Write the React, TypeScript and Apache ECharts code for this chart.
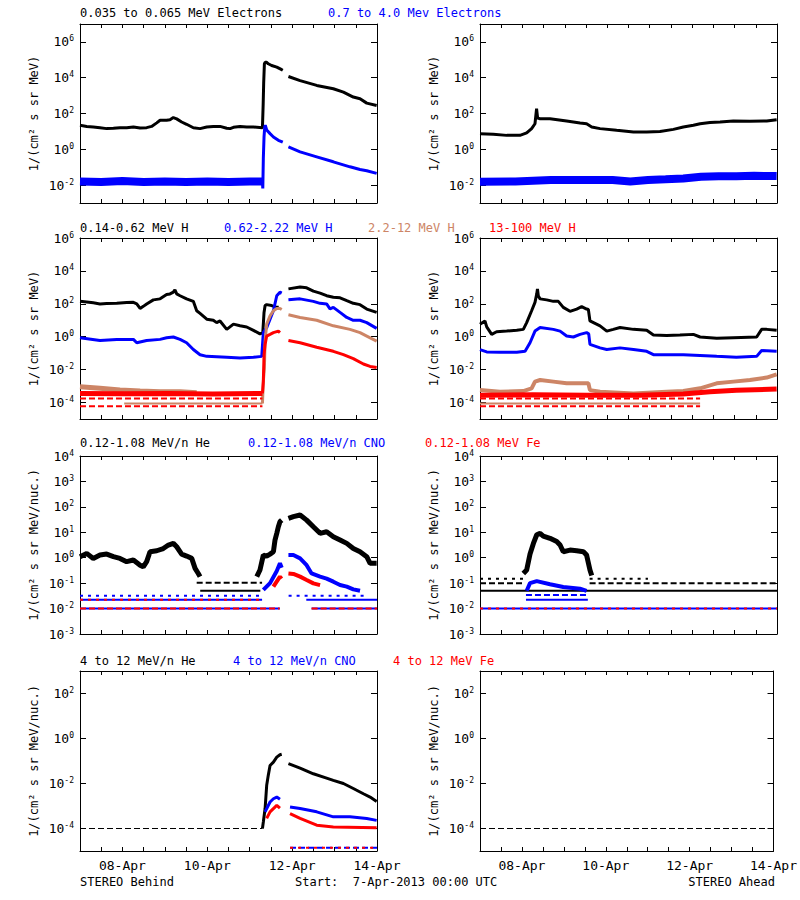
import React, { useEffect, useRef } from 'react';
import * as echarts from 'echarts';

type P = [number, number | string];
const G = '-'; // gap in the data

// x values are hours since 7-Apr-2013 00:00 UTC
const xTickLabels: Record<number, string> = { 24: '08-Apr', 72: '10-Apr', 120: '12-Apr', 168: '14-Apr' };

// ---------- Row 1: electrons ----------
const elecLowBehind: P[] = [[0,22],[3.8,19],[7.5,17.7],[11.3,16],[15.1,14.3],[18.9,15],[22.6,16.2],[26.4,16],[30.2,17.7],[34,15.5],[37.7,16.2],[40.5,19],[43.4,30],[45.3,42],[49,42],[50.9,45],[52.8,59],[54.7,50],[57.5,33.5],[60.3,25],[62.2,20],[64.1,16],[67.9,14.3],[71.7,17.7],[75.4,19],[79.2,19],[83,15],[84.9,14.3],[86.8,17],[90.5,19],[94.3,17.7],[98.1,17.7],[103.2,16.2],[103.6,300],[103.9,5000],[104.3,59000],[104.7,72000],[105.6,72000],[106.5,60000],[108.4,48000],[111.3,39000],[114.1,28000],[114.7,26000],[116,G],[117.9,11700],[124.5,6900],[133.9,3700],[143.3,2400],[149,1560],[154.6,830],[158.4,670],[162.2,380],[167.8,280]];
const elecHighBehindBg: P[] = [[0,0.016],[12,0.015],[24,0.017],[36,0.015],[48,0.016],[60,0.015],[72,0.016],[84,0.015],[96,0.016],[103.2,0.016]];
const elecHighBehind: P[] = [[103.2,0.016],[103.4,0.0065],[103.7,0.3],[104.1,5],[104.5,17.7],[104.8,22],[105.6,12],[107.5,7.5],[109.4,4.9],[112.2,3.2],[114.7,2.5],[116,G],[117.9,1.35],[124.5,0.72],[133.9,0.38],[143.3,0.2],[152.7,0.105],[158.4,0.074],[162.2,0.063],[167.8,0.045]];
const elecLowAhead: P[] = [[0,7.5],[7.5,6.9],[15.1,6],[22.6,6],[26.4,8.2],[29.2,14.3],[31.1,26.7],[32,186],[32.6,55],[34,51],[39.6,51],[49,38],[56.6,29.5],[60.3,26.7],[63.2,17.7],[67.9,14.3],[77.3,11.5],[86.8,9.3],[94.3,9.3],[101.8,10],[109.4,13],[115,17.7],[120.7,22],[124.5,26.7],[130.1,31],[135.8,33.5],[143.3,38],[152.7,36.5],[162.2,38],[167.8,45]];
const elecHighAhead: P[] = [[0,0.0154],[20,0.016],[40,0.019],[60,0.019],[75,0.019],[85,0.016],[95,0.019],[105,0.021],[115,0.0235],[125,0.029],[135,0.0317],[145,0.0317],[155,0.033],[167.8,0.032]];

// ---------- Row 2: protons ----------
const protLowBehind: P[] = [[0,141],[3.8,130],[7.5,115],[11.3,98],[15.1,105],[20.8,107],[26.4,120],[30.2,123],[32.1,100],[34,52],[35.8,70],[37.7,98],[41.5,174],[45.3,200],[49,366],[50.9,400],[52.8,510],[53.7,710],[54.7,400],[56.6,310],[60.3,200],[64.1,141],[66,38],[67.9,26],[71.7,11.7],[75.4,10],[77.3,7.2],[79.2,9.1],[83,2.8],[86.8,5.8],[90.5,4.6],[94.3,3.9],[98.1,2.45],[101.8,1.5],[103.4,1.77],[104.1,30],[104.7,78],[105.6,89],[108.4,78],[111.3,61],[112.4,61],[115,G],[117.9,810],[124.5,1040],[128.2,940],[132,590],[135.8,450],[139.5,310],[143.3,250],[147.1,230],[150.9,155],[154.6,107],[158.4,89],[162.2,48],[167.8,30]];
const protMidBehind: P[] = [[0,0.87],[11.3,0.59],[20.8,0.69],[30.2,0.69],[32.1,0.43],[37.7,0.59],[45.3,0.69],[49,0.87],[52.8,0.96],[56.6,0.69],[60.3,0.43],[64.1,0.166],[67.9,0.081],[71.7,0.064],[83,0.056],[90.5,0.051],[98.1,0.056],[102.8,0.064],[103.7,1.77],[105.6,3.6],[107.5,11.7],[109.4,38],[111.3,310],[112.2,400],[113.1,510],[114.1,450],[116,G],[117.9,174],[124.5,200],[132,141],[135.8,107],[139.5,98],[141.4,50],[143.3,61],[147.1,30],[150.9,14.8],[154.6,10],[158.4,10],[162.2,7.2],[167.8,3.2]];
const protHighBehindBg: P[] = [[0,9.2e-4],[11.3,7.3e-4],[22.6,5.7e-4],[34,5e-4],[45.3,4.5e-4],[56.6,4.5e-4],[66,4e-4]];
const protHighBehind: P[] = [[103.2,8.7e-5],[103.7,1.9e-3],[104.3,0.0123],[104.7,0.54],[105.6,5.8],[107.5,18.6],[109.4,38],[111.3,52],[113.1,52],[114.1,45],[116,G],[117.9,21.5],[124.5,14.8],[133.9,10],[143.3,4.6],[152.7,2.8],[158.4,1.77],[162.2,1.1],[167.8,0.54]];
const protHighBehindFloor: P[] = [[25,8.7e-5],[103.2,8.7e-5]];
const protTopBehindBg: P[] = [[0,3.6e-4],[25,3.4e-4],[50,3.6e-4],[75,3.3e-4],[103.2,3.6e-4]];
const protTopBehind: P[] = [[103.2,3.6e-4],[103.7,1.87e-3],[104.1,0.081],[104.7,0.34],[105.6,1.1],[107.5,1.39],[109.4,1.77],[112.2,2.2],[113.1,1.77],[116,G],[117.9,0.59],[124.5,0.43],[133.9,0.23],[143.3,0.13],[149,0.081],[154.6,0.047],[160.3,0.022],[164.1,0.0156],[167.8,0.0134]];
const protTopBehindFloorA: P[] = [[0,1.77e-4],[103.2,1.77e-4]];
const protTopBehindFloorB: P[] = [[0,5.9e-5],[103.2,5.9e-5]];
const protLowAhead: P[] = [[0,5.8],[2.8,9.1],[3.8,4],[6.6,1.39],[9.4,2.0],[15.1,2.2],[20.8,2.45],[24.5,2.8],[26.4,7.2],[29.2,38],[31.1,123],[32.1,400],[32.5,810],[33,300],[34,200],[37.7,174],[41.5,141],[44.3,141],[47.1,61],[50.9,35],[54.7,48],[57.5,67],[60.3,48],[61.3,45],[62.2,9.1],[67.9,4.6],[71.7,2.2],[75.4,2.8],[79.2,3.6],[86.8,2.8],[94.3,2.45],[98.1,1.26],[105.6,1.2],[113.1,1.26],[120.7,1.39],[124.5,0.96],[133.9,0.8],[143.3,0.87],[156.5,0.96],[159.3,2.8],[162.2,2.8],[167.8,2.45]];
const protMidAhead: P[] = [[0,0.166],[3.8,0.12],[11.3,0.115],[20.8,0.115],[25.5,0.13],[28.3,0.43],[31.1,2.2],[34,3.6],[41.5,2.8],[45.3,2.2],[49,1.1],[52.8,0.96],[56.6,1.39],[60.3,1.77],[61.5,1.5],[62.2,0.34],[67.9,0.21],[71.7,0.166],[79.2,0.21],[86.8,0.166],[94.3,0.13],[98.1,0.081],[115,0.081],[133.9,0.064],[145,0.056],[156.5,0.064],[159.3,0.145],[167.8,0.13]];
const protHighAhead: P[] = [[0,5.7e-4],[11.3,4.5e-4],[24.5,5e-4],[29.2,7.3e-4],[31.1,1.87e-3],[34,2.35e-3],[41.5,1.87e-3],[49,1.48e-3],[56.6,1.48e-3],[61.3,1.48e-3],[62.2,5.7e-4],[67.9,4.5e-4],[86.8,3.6e-4],[105.6,4.5e-4],[115,5e-4],[124.5,7.3e-4],[133.9,1.48e-3],[143.3,1.87e-3],[152.7,2.35e-3],[162.2,3.3e-3],[167.8,5.2e-3]];
const protHighAheadFloor: P[] = [[0,8.7e-5],[124.5,8.7e-5]];
const protTopAhead: P[] = [[0,2.8e-4],[30,3e-4],[60,2.8e-4],[90,2.8e-4],[115,3.3e-4],[130,4.5e-4],[145,5.5e-4],[167.8,6.6e-4]];
const protTopAheadFloorA: P[] = [[0,1.77e-4],[124.5,1.77e-4]];
const protTopAheadFloorB: P[] = [[0,5.9e-5],[124.5,5.9e-5]];

// ---------- Row 3: 0.12-1.08 MeV/n ions ----------
const heLowBehind: P[] = [[0,1.1],[3.8,1.48],[7.5,0.94],[11.3,1.27],[15.1,1.39],[18.9,1.1],[22.6,0.94],[26.4,0.7],[30.2,0.81],[34,0.51],[35.8,0.44],[37.7,0.7],[39.6,1.72],[43.4,1.88],[47.1,2.3],[50,3.15],[52.8,3.66],[54.7,2.7],[57.5,1.39],[60.3,1.16],[63.2,0.94],[65.1,0.38],[66.9,0.24],[67.9,0.18],[69,G],[100,0.18],[101.8,0.33],[103.7,1.27],[105.6,1.16],[107.5,1.39],[109.4,1.72],[110.3,4.9],[111.3,9.1],[112.2,16.5],[113.1,26],[114.1,30],[116,G],[117.9,35],[120.7,41],[124.5,48],[128.2,30],[132,16.5],[135.8,9.1],[139.5,10.5],[143.3,6.7],[147.1,5],[150.9,3.66],[154.6,2.3],[158.4,1.72],[162.2,1.1],[164.1,0.6],[167.8,0.6]];
const heLowBehindFloorA: P[] = [[66,0.104],[103,0.104]];
const heLowBehindFloorB: P[] = [[68,0.05],[102,0.05]];
const cnoLowBehind: P[] = [[103.7,0.054],[107.5,0.1],[111.3,0.3],[113.1,0.6],[114.1,0.4],[116,G],[117.9,1.27],[120.7,1.27],[124.5,0.94],[128.2,0.51],[131,0.24],[135.8,0.18],[139.5,0.15],[143.3,0.114],[147.1,0.084],[150.9,0.073],[154.6,0.057],[158.4,0.05]];
const cnoLowBehindFloorA: P[] = [[0,0.032],[103,0.032],[110,G],[118,0.032],[162,0.032]];
const cnoLowBehindFloorB: P[] = [[0,0.022],[103,0.022],[110,G],[128,0.022],[168,0.022]];
const cnoLowBehindFloorC: P[] = [[0,0.01],[113,0.01],[120,G],[131,0.01],[168,0.01]];
const feLowBehind: P[] = [[109.4,0.073],[113.1,0.18],[114,0.15],[116,G],[117.9,0.24],[120.7,0.23],[124.5,0.18],[128.2,0.133],[132,0.098],[135.8,0.084]];
const feLowBehindFloorA: P[] = [[0,0.022],[103,0.022]];
const feLowBehindFloorB: P[] = [[0,0.01],[113,0.01],[120,G],[131,0.01],[168,0.01]];
const heLowAhead: P[] = [[24.5,0.24],[26.4,0.33],[28.3,1.39],[30.2,3.66],[32.1,8],[34,9.1],[35.8,7.1],[39.6,5.8],[43.4,4.3],[45.3,3.15],[47.1,1.72],[50.9,2.0],[54.7,1.88],[58.5,1.72],[60.3,1.27],[62.2,0.33],[63.2,0.2]];
const heLowAheadFloorA: P[] = [[0,0.15],[25,0.15],[40,G],[62,0.15],[95,0.15]];
const heLowAheadFloorB: P[] = [[0,0.1],[25,0.1],[40,G],[62,0.1],[168,0.1]];
const heLowAheadFloorC: P[] = [[0,0.05],[168,0.05]];
const cnoLowAhead: P[] = [[26.4,0.05],[28.3,0.1],[32.1,0.12],[39.6,0.09],[47.1,0.07],[56.6,0.06],[60.3,0.05]];
const cnoLowAheadFloorA: P[] = [[26,0.034],[61,0.034]];
const cnoLowAheadFloorB: P[] = [[26,0.022],[61,0.022]];
const cnoLowAheadFloorC: P[] = [[0,0.01],[168,0.01]];
const feLowAheadFloor: P[] = [[0,0.01],[168,0.01]];

// ---------- Row 4: 4-12 MeV/n ions ----------
const heHighBehindFloor: P[] = [[0,1e-4],[103.2,1e-4]];
const heHighBehind: P[] = [[103.2,1e-4],[103.7,1.95e-4],[104.7,7.7e-4],[105.6,8.3e-3],[106.5,0.023],[107.5,0.063],[109.4,0.089],[111.3,0.148],[113.1,0.19],[114.1,0.2],[116,G],[117.9,0.076],[124.5,0.048],[132,0.027],[139.5,0.0174],[143.3,0.0138],[149,0.01],[154.6,0.006],[160.3,0.0035],[164.1,0.0025],[167.8,0.0016]];
const cnoHighBehind: P[] = [[104.7,5.5e-4],[107.5,1.5e-3],[109.4,2.1e-3],[111.3,2.5e-3],[113.1,2e-3],[116,G],[118.8,9.1e-4],[124.5,7.7e-4],[133.9,5.5e-4],[143.3,3.3e-4],[152.7,3.3e-4],[162.2,2.8e-4],[167.8,2.3e-4]];
const cnoHighBehindFloor: P[] = [[118.8,1.4e-5],[168,1.4e-5]];
const feHighBehind: P[] = [[105.6,2.8e-4],[107.5,5.5e-4],[111.3,1.07e-3],[113.1,8e-4],[116,G],[118.8,4.6e-4],[124.5,2.8e-4],[133.9,1.4e-4],[143.3,1.18e-4],[167.8,1.07e-4]];
const feHighBehindFloor: P[] = [[118.8,1.4e-5],[168,1.4e-5]];
const heHighAheadFloor: P[] = [[0,1e-4],[168,1e-4]];

// ---------- axes ----------
const yRanges: [number, number][] = [[1e-3, 1e7], [1e-5, 1e6], [1e-3, 1e4], [1e-5, 1e3]];
const yTickValues: number[][] = [
  [1e-2, 1, 1e2, 1e4, 1e6],
  [1e-4, 1e-2, 1, 1e2, 1e4, 1e6],
  [1e-3, 1e-2, 1e-1, 1, 10, 100, 1e3, 1e4],
  [1e-4, 1e-2, 1, 1e2],
];
const yNames = ['1/(cm² s sr MeV)', '1/(cm² s sr MeV)', '1/(cm² s sr MeV/nuc.)', '1/(cm² s sr MeV/nuc.)'];

const K = '#000000', B = '#0000ff', N = '#cd8566', R = '#ff0000';
const FONT = '"DejaVu Sans Mono", monospace';

type S = { data: P[]; color: string; width: number; dash?: number[] };
const DASH = [6, 3];
const SPARSE = [3, 5];

const panels: S[][] = [
  [
    { data: elecLowBehind, color: K, width: 3 },
    { data: elecHighBehindBg, color: B, width: 8 },
    { data: elecHighBehind, color: B, width: 3 },
  ],
  [
    { data: elecLowAhead, color: K, width: 3 },
    { data: elecHighAhead, color: B, width: 8 },
  ],
  [
    { data: protLowBehind, color: K, width: 3 },
    { data: protMidBehind, color: B, width: 3 },
    { data: protHighBehindBg, color: N, width: 5 },
    { data: protHighBehindFloor, color: N, width: 2 },
    { data: protHighBehind, color: N, width: 3 },
    { data: protTopBehindBg, color: R, width: 5 },
    { data: protTopBehindFloorA, color: R, width: 2, dash: DASH },
    { data: protTopBehindFloorB, color: R, width: 2, dash: DASH },
    { data: protTopBehind, color: R, width: 3 },
  ],
  [
    { data: protLowAhead, color: K, width: 3 },
    { data: protMidAhead, color: B, width: 3 },
    { data: protHighAhead, color: N, width: 4 },
    { data: protHighAheadFloor, color: N, width: 2 },
    { data: protTopAhead, color: R, width: 5 },
    { data: protTopAheadFloorA, color: R, width: 2, dash: DASH },
    { data: protTopAheadFloorB, color: R, width: 2, dash: DASH },
  ],
  [
    { data: heLowBehind, color: K, width: 5 },
    { data: heLowBehindFloorA, color: K, width: 2, dash: DASH },
    { data: heLowBehindFloorB, color: K, width: 2 },
    { data: cnoLowBehind, color: B, width: 4 },
    { data: cnoLowBehindFloorA, color: B, width: 2, dash: SPARSE },
    { data: cnoLowBehindFloorB, color: B, width: 2 },
    { data: cnoLowBehindFloorC, color: B, width: 2 },
    { data: feLowBehind, color: R, width: 4 },
    { data: feLowBehindFloorA, color: R, width: 2, dash: SPARSE },
    { data: feLowBehindFloorB, color: R, width: 2, dash: DASH },
  ],
  [
    { data: heLowAhead, color: K, width: 5 },
    { data: heLowAheadFloorA, color: K, width: 2, dash: SPARSE },
    { data: heLowAheadFloorB, color: K, width: 2, dash: DASH },
    { data: heLowAheadFloorC, color: K, width: 2 },
    { data: cnoLowAhead, color: B, width: 4 },
    { data: cnoLowAheadFloorA, color: B, width: 2, dash: DASH },
    { data: cnoLowAheadFloorB, color: B, width: 2 },
    { data: cnoLowAheadFloorC, color: B, width: 2 },
    { data: feLowAheadFloor, color: R, width: 2, dash: SPARSE },
  ],
  [
    { data: heHighBehindFloor, color: K, width: 1, dash: DASH },
    { data: heHighBehind, color: K, width: 3 },
    { data: cnoHighBehind, color: B, width: 3 },
    { data: cnoHighBehindFloor, color: B, width: 2, dash: DASH },
    { data: feHighBehind, color: R, width: 3 },
    { data: feHighBehindFloor, color: R, width: 2, dash: SPARSE },
  ],
  [
    { data: heHighAheadFloor, color: K, width: 1, dash: DASH },
  ],
];

const titles: { t: string; x: number; y: number; c: string; align?: string }[] = [
  { t: '0.035 to 0.065 MeV Electrons', x: 80, y: 13, c: K },
  { t: '0.7 to 4.0 Mev Electrons', x: 328, y: 13, c: B },
  { t: '0.14-0.62 MeV H', x: 80, y: 228, c: K },
  { t: '0.62-2.22 MeV H', x: 224, y: 228, c: B },
  { t: '2.2-12 MeV H', x: 368, y: 228, c: N },
  { t: '13-100 MeV H', x: 489, y: 228, c: R },
  { t: '0.12-1.08 MeV/n He', x: 80, y: 443, c: K },
  { t: '0.12-1.08 MeV/n CNO', x: 248, y: 443, c: B },
  { t: '0.12-1.08 MeV Fe', x: 425, y: 443, c: R },
  { t: '4 to 12 MeV/n He', x: 80, y: 661, c: K },
  { t: '4 to 12 MeV/n CNO', x: 233, y: 661, c: B },
  { t: '4 to 12 MeV Fe', x: 393, y: 661, c: R },
  { t: 'STEREO Behind', x: 80, y: 882, c: K },
  { t: 'Start:  7-Apr-2013 00:00 UTC', x: 295, y: 882, c: K },
  { t: 'STEREO Ahead', x: 775, y: 882, c: K, align: 'right' },
];

const LEFTS = [80, 480];
const WIDTH = 297;
const ROWS = [
  { top: 24, height: 179 },
  { top: 238, height: 181 },
  { top: 456, height: 178 },
  { top: 671, height: 180 },
];

function buildOption() {
  const grid: any[] = [];
  const xAxis: any[] = [];
  const yAxis: any[] = [];
  const series: any[] = [];
  const axisLine = { show: true, onZero: false, lineStyle: { color: '#000', width: 1 } };
  panels.forEach((ps, i) => {
    const r = Math.floor(i / 2);
    const c = i % 2;
    grid.push({ left: LEFTS[c], top: ROWS[r].top, width: WIDTH, height: ROWS[r].height, containLabel: false });
    const xBase = {
      type: 'value', gridIndex: i, min: 0, max: 168, interval: 12,
      axisLine, splitLine: { show: false },
      axisTick: { inside: true, length: 4, lineStyle: { color: '#000' } },
    };
    xAxis.push({
      ...xBase, position: 'bottom',
      axisLabel: {
        show: r === 3, margin: 8, color: '#000', fontFamily: FONT, fontSize: 13,
        formatter: (v: number) => xTickLabels[v] ?? '',
      },
    });
    xAxis.push({ ...xBase, position: 'top', axisLabel: { show: false } });
    const vals = yTickValues[r];
    const yBase = {
      type: 'log', logBase: 10, gridIndex: i, min: yRanges[r][0], max: yRanges[r][1],
      axisLine, splitLine: { show: false }, minorTick: { show: false },
      axisTick: { inside: true, length: 6, customValues: vals, lineStyle: { color: '#000' } },
    };
    yAxis.push({
      ...yBase, position: 'left',
      name: yNames[r], nameLocation: 'middle', nameGap: 40,
      nameTextStyle: { color: '#000', fontFamily: FONT, fontSize: 12 },
      axisLabel: {
        customValues: vals, margin: 6, color: '#000',
        formatter: (v: number) => `{b|10}{s|${Math.round(Math.log10(v))}}`,
        rich: {
          b: { fontFamily: FONT, fontSize: 13, color: '#000', lineHeight: 12 },
          s: { fontFamily: FONT, fontSize: 8, color: '#000', lineHeight: 8, padding: [0, 0, 6, 0] },
        },
      },
    });
    yAxis.push({ ...yBase, position: 'right', axisLabel: { show: false } });
    ps.forEach((s) => {
      series.push({
        type: 'line', xAxisIndex: 2 * i, yAxisIndex: 2 * i, data: s.data,
        symbol: 'none', showSymbol: false, connectNulls: false, silent: true, clip: true,
        lineStyle: { color: s.color, width: s.width, type: s.dash ?? 'solid' },
        itemStyle: { color: s.color },
      });
    });
  });
  const graphic = titles.map((t) => ({
    type: 'text', x: t.x, y: t.y, silent: true,
    style: {
      text: t.t, fill: t.c, font: `12px ${FONT}`,
      align: t.align ?? 'left', verticalAlign: 'middle',
    },
  }));
  return { animation: false, backgroundColor: '#ffffff', grid, xAxis, yAxis, series, graphic };
}

export default function App() {
  const ref = useRef<HTMLDivElement>(null);
  useEffect(() => {
    document.body.style.margin = '0';
    const chart = echarts.init(ref.current!, null, { renderer: 'svg' });
    chart.setOption(buildOption() as any);
    return () => chart.dispose();
  }, []);
  return <div ref={ref} style={{ width: 800, height: 900 }} />;
}
